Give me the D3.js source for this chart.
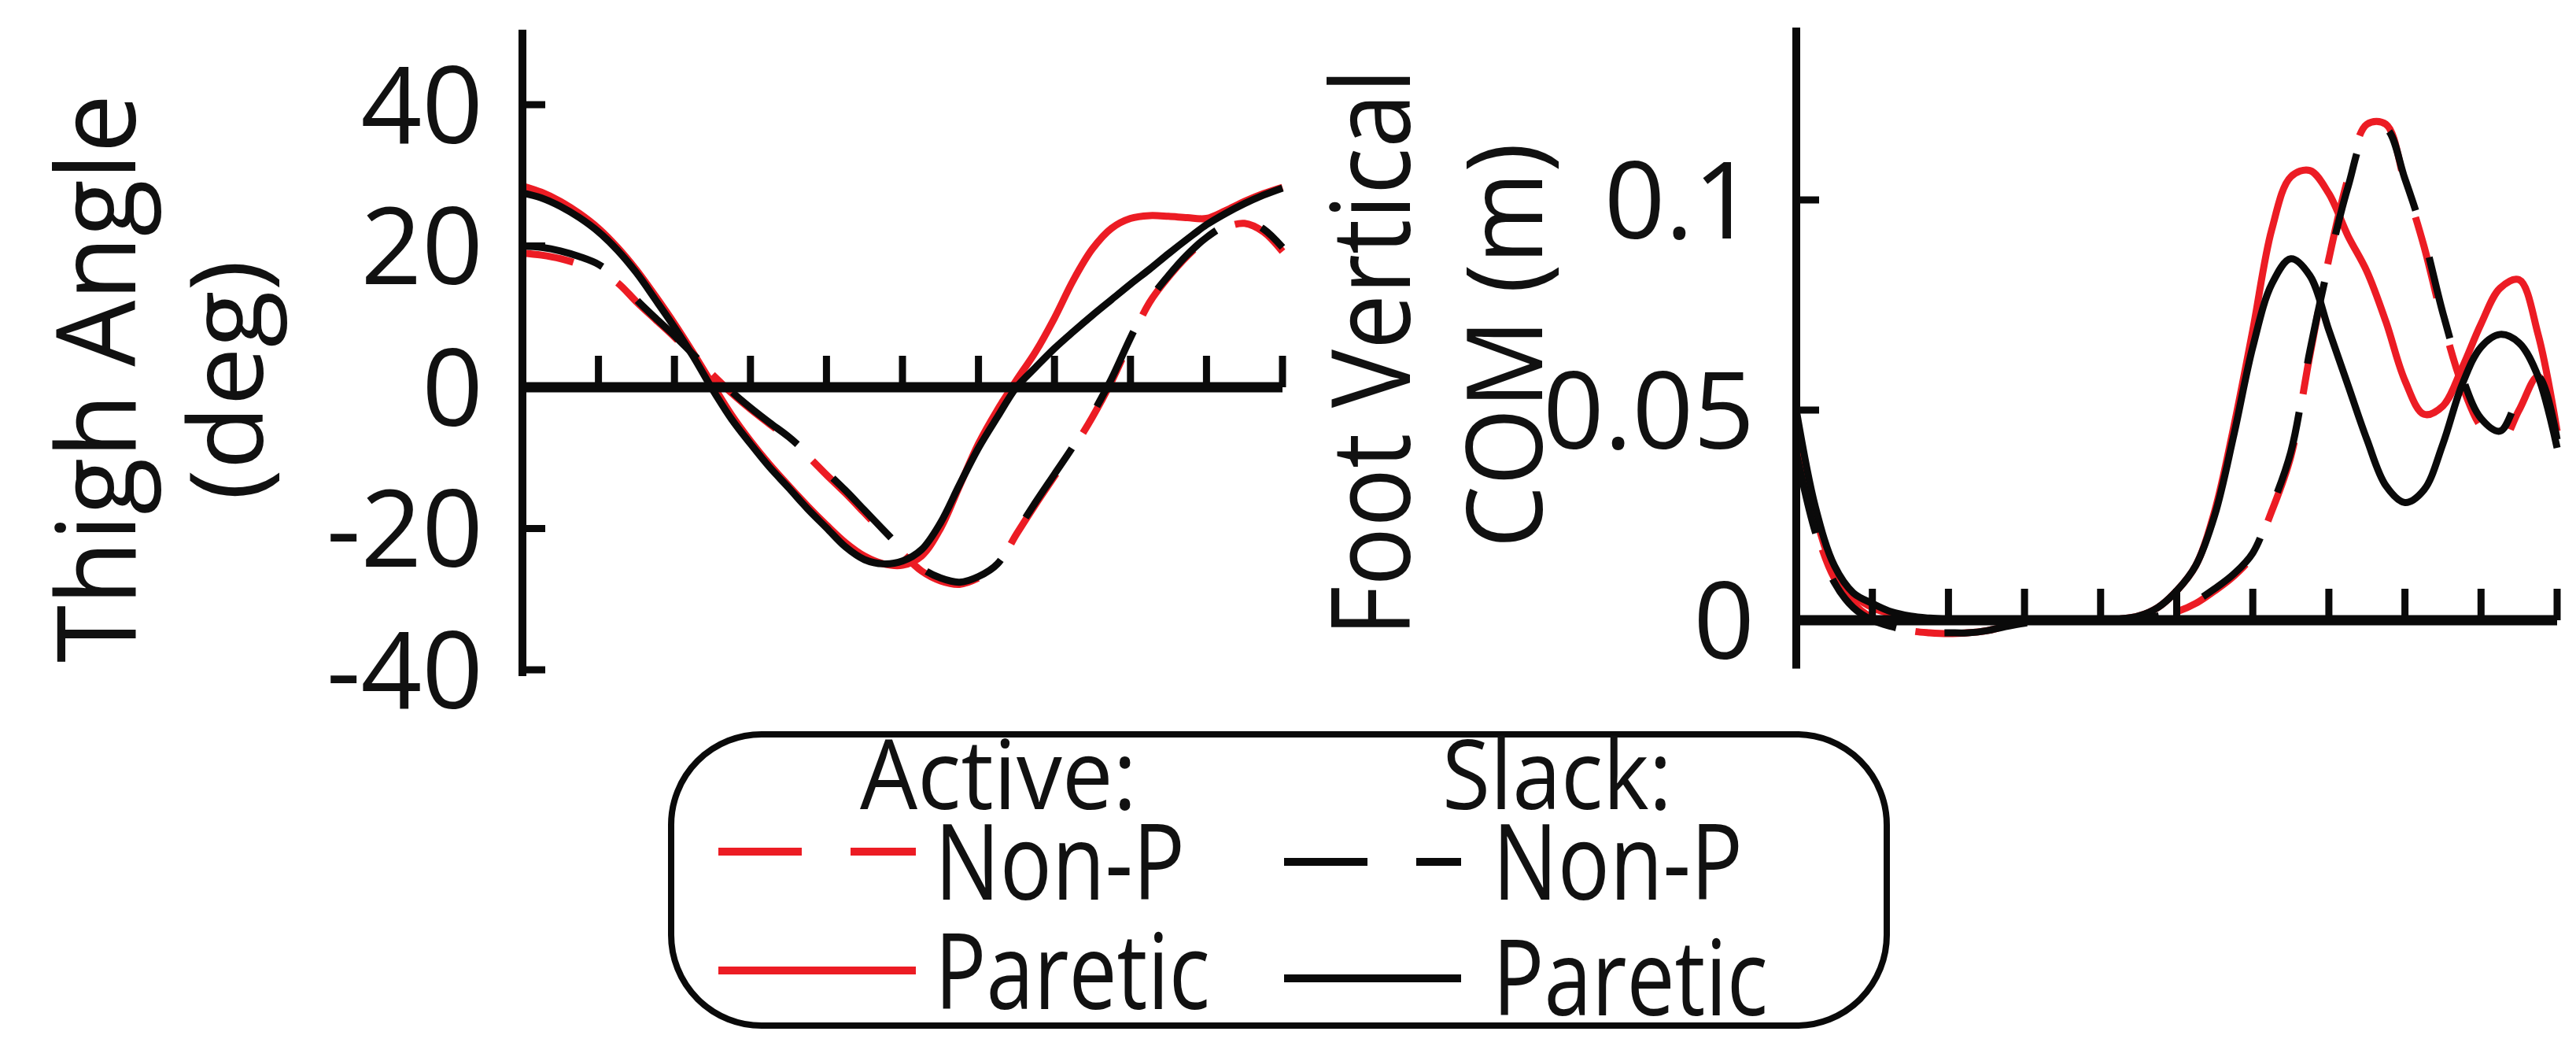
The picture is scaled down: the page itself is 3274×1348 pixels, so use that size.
<!DOCTYPE html>
<html><head><meta charset="utf-8">
<script src="https://cdn.jsdelivr.net/npm/d3@7"></script>
<style>
html,body{margin:0;padding:0;background:#fff;}
svg{display:block;}
text{font-family:"Open Sans","Noto Sans",sans-serif;fill:#111;}
</style></head><body>
<svg id="chart" width="3274" height="1348"></svg>
<script>
// ---------- data ----------
const gaitPct = [0,2.5,5,7.5,10,12.5,15,17.5,20,22.5,25,27.5,30,32.5,35,37.5,40,42.5,45,47.5,50,52.5,55,57.5,60,62.5,65,67.5,70,72.5,75,77.5,80,82.5,85,87.5,90,92.5,95,97.5,100];

// Thigh angle (deg)
const thighActiveNonP = [19.0,18.7,18.2,17.4,16.4,14.8,12.1,9.6,7.1,4.4,1.8,-0.8,-3.1,-5.2,-7.3,-9.7,-12.4,-15.0,-17.8,-20.6,-23.5,-26.0,-27.4,-27.9,-27.0,-25.2,-20.8,-16.6,-12.6,-8.6,-4.2,0.8,6.6,12.0,15.6,18.6,21.0,22.6,23.2,22.0,19.2];
const thighActivePar  = [28.5,27.6,26.3,24.6,22.5,19.8,16.6,12.9,9.0,4.8,0.4,-3.9,-7.6,-10.9,-13.9,-16.8,-19.5,-22.0,-23.9,-25.0,-25.2,-23.9,-20.0,-14.0,-8.0,-3.2,1.0,5.0,9.8,15.2,19.6,22.5,23.9,24.3,24.2,24.0,23.9,25.0,26.3,27.4,28.3];
const thighSlackNonP  = [20.0,19.8,19.3,18.5,17.4,15.4,12.4,9.8,7.3,4.6,2.0,-0.6,-2.9,-5.0,-7.0,-9.4,-12.0,-14.6,-17.4,-20.2,-23.0,-25.6,-27.0,-27.6,-26.8,-25.0,-20.5,-16.3,-12.3,-8.3,-3.8,1.2,7.0,12.3,15.8,18.8,21.2,22.9,23.6,22.4,19.8];
const thighSlackPar   = [27.5,26.8,25.6,24.0,22.0,19.4,16.2,12.4,8.5,4.3,-0.3,-4.5,-8.0,-11.3,-14.2,-17.2,-19.9,-22.6,-24.4,-25.0,-24.6,-23.0,-19.2,-13.8,-8.6,-4.2,0.0,2.8,5.5,7.9,10.2,12.4,14.6,16.7,18.9,21.0,23.0,24.6,26.0,27.2,28.2];

// Foot vertical COM (m)
const footActiveNonP = [0.040,0.022,0.010,0.004,0.0005,-0.0012,-0.0025,-0.003,-0.0032,-0.003,-0.0025,-0.0015,-0.0007,-0.0002,0,0,0,0,0.0003,0.001,0.002,0.004,0.007,0.0105,0.0155,0.026,0.039,0.063,0.086,0.105,0.118,0.118,0.104,0.089,0.071,0.056,0.046,0.042,0.050,0.058,0.044];
const footActivePar  = [0.045,0.025,0.012,0.006,0.003,0.0015,0.0006,0.0002,0,0,0,0,0,0,0,0,0,0.0003,0.001,0.003,0.007,0.013,0.026,0.046,0.069,0.093,0.1055,0.107,0.1015,0.0915,0.083,0.071,0.057,0.049,0.051,0.060,0.0705,0.079,0.081,0.068,0.045];
const footSlackNonP  = [0.040,0.021,0.009,0.003,0.0,-0.0015,-0.0025,-0.003,-0.003,-0.003,-0.0025,-0.0015,-0.0007,-0.0002,0,0,0,0,0.0003,0.001,0.002,0.0045,0.0075,0.011,0.016,0.027,0.040,0.064,0.085,0.103,0.116,0.117,0.105,0.091,0.073,0.058,0.048,0.045,0.053,0.058,0.043];
const footSlackPar   = [0.050,0.027,0.013,0.0065,0.004,0.002,0.001,0.0005,0.0002,0,0,0,0,0,0,0,0,0.0003,0.001,0.003,0.007,0.013,0.025,0.044,0.065,0.080,0.086,0.082,0.069,0.056,0.043,0.032,0.028,0.031,0.042,0.056,0.065,0.068,0.066,0.058,0.041];

// ticks and labels
const xTicks = [0,10,20,30,40,50,60,70,80,90,100];
const thighTicks = [-40,-20,0,20,40];
const thighTickLabels = ["-40","-20","0","20","40"];
const footTicks = [0,0.05,0.1];
const footTickLabels = ["0","0.05","0.1"];
const thighLabel = ["Thigh Angle","(deg)"];
const footLabel = ["Foot Vertical","COM (m)"];
const legendTitles = ["Active:","Slack:"];
const legendNames = ["Non-P","Paretic"];

const RED = "#ec1c24", BLACK = "#0a0a0a";
const DASH = "106,62";

// ---------- drawing ----------
const svg = d3.select("#chart");
svg.append("rect").attr("width",3274).attr("height",1348).attr("fill","#fff");

const panels = [
  { xr:[664,1630], yDom:[-40,40], yRng:[851,133], axisExt:[-40.9,50.6],
    ticks:thighTicks, tickLabels:thighTickLabels, labelEnd:614,
    ylab:thighLabel, ylabPos:[[172,481,140,722],[334,483,130,305]],
    series:[
      {v:thighActivePar, c:RED, d:null},
      {v:thighActiveNonP, c:RED, d:DASH, off:40},
      {v:thighSlackPar, c:BLACK, d:null},
      {v:thighSlackNonP, c:BLACK, d:DASH, off:0}
    ]},
  { xr:[2283,3250], yDom:[0,0.1], yRng:[788,254], axisExt:[-0.0115,0.141],
    ticks:footTicks, tickLabels:footTickLabels, labelEnd:2230,
    ylab:footLabel, ylabPos:[[1792,448,140,722],[1960,439,134,515]],
    series:[
      {v:footActivePar, c:RED, d:null},
      {v:footActiveNonP, c:RED, d:DASH, off:40},
      {v:footSlackPar, c:BLACK, d:null},
      {v:footSlackNonP, c:BLACK, d:DASH, off:0}
    ]}
];

panels.forEach(p => {
  const x = d3.scaleLinear().domain([0,100]).range(p.xr);
  const y = d3.scaleLinear().domain(p.yDom).range(p.yRng);
  const g = svg.append("g");

  // data lines
  const line = d3.line().x((d,i)=>x(gaitPct[i])).y(d=>y(d)).curve(d3.curveCatmullRom.alpha(0.5));
  p.series.forEach(s => {
    g.append("path").datum(s.v).attr("d",line)
      .attr("fill","none").attr("stroke",s.c).attr("stroke-width",9)
      .attr("stroke-linejoin","round")
      .attr("stroke-dasharray", s.d).attr("stroke-dashoffset", s.off||0);
  });

  // y axis line
  g.append("line").attr("x1",x(0)).attr("x2",x(0))
    .attr("y1",y(p.axisExt[0])).attr("y2",y(p.axisExt[1]))
    .attr("stroke",BLACK).attr("stroke-width",10);
  // y ticks (inward)
  g.selectAll(".yt").data(p.ticks).enter().append("line")
    .attr("x1",x(0)).attr("x2",x(0)+29)
    .attr("y1",d=>y(d)).attr("y2",d=>y(d))
    .attr("stroke",BLACK).attr("stroke-width",9);
  // y tick labels
  g.selectAll(".yl").data(p.ticks).enter().append("text")
    .attr("x",p.labelEnd).attr("y",d=>y(d)).attr("dy","0.36em")
    .attr("text-anchor","end").attr("font-size",136)
    .text((d,i)=>p.tickLabels[i]);

  // x axis at zero
  g.append("line").attr("x1",x(0)).attr("x2",x(100))
    .attr("y1",y(0)).attr("y2",y(0))
    .attr("stroke",BLACK).attr("stroke-width",13);
  g.selectAll(".xt").data(xTicks).enter().append("line")
    .attr("x1",d=>x(d)).attr("x2",d=>x(d))
    .attr("y1",y(0)).attr("y2",y(0)-40)
    .attr("stroke",BLACK).attr("stroke-width",9);

  // y labels
  p.ylab.forEach((t,i) => {
    const [lx,ly,fs,tl] = p.ylabPos[i];
    svg.append("text").attr("transform",`translate(${lx},${ly}) rotate(-90)`)
      .attr("text-anchor","middle").attr("font-size",fs)
      .attr("textLength",tl).attr("lengthAdjust","spacingAndGlyphs")
      .text(t);
  });
});

// ---------- legend ----------
const lg = svg.append("g");
lg.append("rect").attr("x",853).attr("y",933).attr("width",1545).attr("height",370)
  .attr("rx",115).attr("ry",115).attr("fill","#fff")
  .attr("stroke",BLACK).attr("stroke-width",8);

const cols = [
  {title:legendTitles[0], tx:1269, tl:352, color:RED, lx:[913,1164], ly:[1082,1233], textX:1188, textY:[1143,1282], tls:[318,350]},
  {title:legendTitles[1], tx:1979, tl:292, color:BLACK, lx:[1632,1857], ly:[1095,1243], textX:1897, textY:[1143,1290], tls:[318,350]}
];
cols.forEach(c => {
  lg.append("text").attr("x",c.tx).attr("y",1028).attr("text-anchor","middle")
    .attr("font-size",122).attr("textLength",c.tl).attr("lengthAdjust","spacingAndGlyphs")
    .text(c.title);
  legendNames.forEach((n,i) => {
    lg.append("line").attr("x1",c.lx[0]).attr("x2",c.lx[1])
      .attr("y1",c.ly[i]).attr("y2",c.ly[i])
      .attr("stroke",c.color).attr("stroke-width",10)
      .attr("stroke-dasharray", i===0 ? DASH : null);
    lg.append("text").attr("x",c.textX).attr("y",c.textY[i])
      .attr("font-size",134).attr("textLength",c.tls[i]).attr("lengthAdjust","spacingAndGlyphs")
      .text(n);
  });
});
</script>
</body></html>
